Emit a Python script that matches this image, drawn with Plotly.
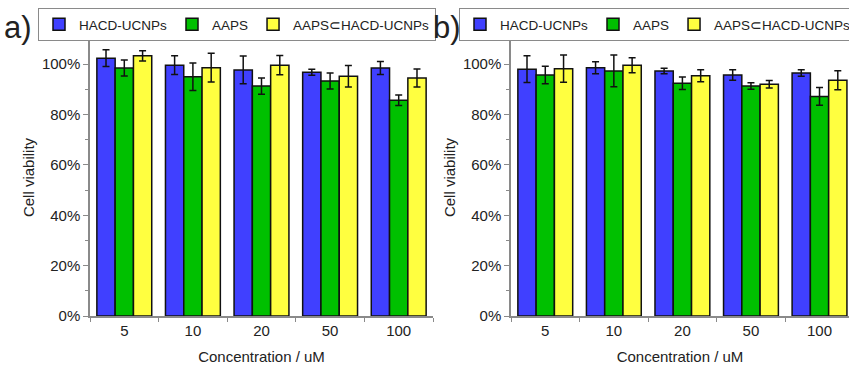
import plotly.graph_objects as go
from plotly.subplots import make_subplots

concentrations = ["5", "10", "20", "50", "100"]
series_names = ["HACD-UCNPs", "AAPS", "AAPS⊂HACD-UCNPs"]
series_colors = ["#4040FF", "#00C000", "#FFFF40"]
y_tick_values = [0, 20, 40, 60, 80, 100]
y_tick_labels = ["0%", "20%", "40%", "60%", "80%", "100%"]

# Panel a
a_hacd = [102.4, 99.6, 97.7, 96.8, 98.5]
a_hacd_err = [3.3, 3.7, 5.5, 1.2, 2.6]
a_aaps = [98.5, 95.0, 91.3, 93.3, 85.7]
a_aaps_err = [3.2, 5.5, 3.2, 3.2, 2.1]
a_complex = [103.3, 98.6, 99.6, 95.2, 94.5]
a_complex_err = [2.0, 5.7, 3.8, 4.3, 3.6]

# Panel b
b_hacd = [98.0, 98.6, 97.3, 95.7, 96.5]
b_hacd_err = [5.3, 2.4, 1.1, 2.1, 1.3]
b_aaps = [95.7, 97.3, 92.4, 91.3, 87.2]
b_aaps_err = [3.5, 6.3, 2.5, 1.3, 3.5]
b_complex = [98.2, 99.6, 95.4, 92.0, 93.6]
b_complex_err = [5.4, 3.0, 2.4, 1.5, 3.8]

W, H = 849, 365
FONT = "Liberation Sans, Arial, sans-serif"
TXT = "#222222"
AX = "#8a8a8a"

fig = make_subplots(rows=1, cols=2)

panels = [
    (1, "legend", [(a_hacd, a_hacd_err), (a_aaps, a_aaps_err), (a_complex, a_complex_err)]),
    (2, "legend2", [(b_hacd, b_hacd_err), (b_aaps, b_aaps_err), (b_complex, b_complex_err)]),
]
for col, leg, data in panels:
    for name, color, (vals, errs) in zip(series_names, series_colors, data):
        fig.add_trace(
            go.Bar(
                x=concentrations, y=vals, name=name, legend=leg,
                marker=dict(color=color, line=dict(color="#111111", width=1.5)),
                error_y=dict(type="data", array=errs, visible=True,
                             color="#111111", thickness=1.5, width=3.5),
            ),
            row=1, col=col,
        )

def px_x(p):
    return p / W

def px_y(p):
    return 1 - p / H

ydom = [px_y(316), px_y(39)]

legend_common = dict(orientation="h", xanchor="left", yanchor="top",
                     bordercolor=AX, borderwidth=1, font=dict(size=13.5, color=TXT),
                     itemclick=False, tracegroupgap=0, bgcolor="white")

fig.update_layout(
    width=W, height=H,
    margin=dict(l=0, r=0, t=0, b=0, autoexpand=False),
    paper_bgcolor="white", plot_bgcolor="white",
    barmode="group", bargap=0.2, bargroupgap=0,
    font=dict(family=FONT, size=14, color=TXT),
    legend=dict(x=px_x(38), y=px_y(8), **legend_common),
    legend2=dict(x=px_x(459), y=px_y(8), **legend_common),
)

xcommon = dict(type="category", automargin=False, showline=True, linecolor=AX, linewidth=1.5,
               ticks="outside", tickson="boundaries", ticklen=4, tickcolor=AX,
               showgrid=False, zeroline=False,
               tickfont=dict(size=15, color=TXT),
               title=dict(text="Concentration / uM", font=dict(size=15, color=TXT), standoff=15))
ycommon = dict(range=[0, 110], automargin=False, tickmode="array",
               tickvals=y_tick_values, ticktext=y_tick_labels,
               showline=True, linecolor=AX, linewidth=1.5,
               ticks="outside", ticklen=5, tickcolor=AX,
               minor=dict(dtick=10, tick0=0, ticks="outside", ticklen=3, tickcolor=AX),
               showgrid=False, zeroline=False,
               tickfont=dict(size=15, color=TXT),
               title=dict(text="Cell viability", font=dict(size=15, color=TXT), standoff=4),
               domain=ydom)

fig.update_xaxes(**xcommon)
fig.update_yaxes(**ycommon)
fig.update_xaxes(domain=[px_x(90), px_x(433)], range=[-0.5, 4.5], row=1, col=1)
fig.update_xaxes(domain=[px_x(511), 1.0], range=[-0.5, 4.43], row=1, col=2)

fig.add_annotation(text="a)", xref="paper", yref="paper", x=px_x(2), y=px_y(27),
                   xanchor="left", yanchor="middle", showarrow=False,
                   font=dict(size=31, color=TXT, family=FONT))
fig.add_annotation(text="b)", xref="paper", yref="paper", x=px_x(431), y=px_y(27),
                   xanchor="left", yanchor="middle", showarrow=False,
                   font=dict(size=31, color=TXT, family=FONT))

fig.write_html("out.html")
